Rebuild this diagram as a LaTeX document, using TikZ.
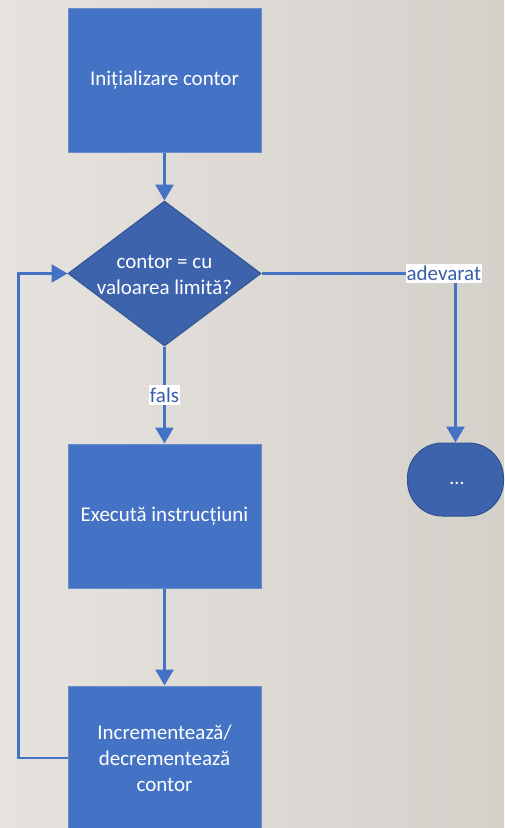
\documentclass[tikz,border=0pt]{standalone}
\usepackage{fontspec}
\setmainfont{Carlito}
\usetikzlibrary{shapes.geometric,arrows.meta}
\definecolor{boxblue}{HTML}{4472C4}
\definecolor{boxedge}{HTML}{6A8CCB}
\definecolor{darkblue}{HTML}{3D63AD}
\definecolor{darkedge}{HTML}{2F528F}
\definecolor{bgleft}{HTML}{E6E3DF}
\definecolor{bgright}{HTML}{D4D1CB}
\definecolor{labtext}{HTML}{3A5EA8}
\tikzset{
  x=1pt, y=-1pt,
  procbox/.style={draw=boxedge, line width=1pt, fill=boxblue, minimum width=193pt, minimum height=144pt, inner sep=0pt, text=white, font=\fontsize{21}{26}\selectfont, align=center},
  decbox/.style={diamond, draw=darkedge, line width=1pt, fill=darkblue, minimum width=193pt, minimum height=145pt, inner sep=0pt},
  termbox/.style={draw=darkedge, line width=1pt, fill=darkblue, rounded corners=35pt, minimum width=96pt, minimum height=73pt, inner sep=0pt},
  wtxt/.style={text=white, font=\fontsize{21}{26}\selectfont, align=center, inner sep=0pt},
  conn/.style={draw=boxblue, line width=2.5pt, -{Triangle[width=18pt,length=16pt]}},
  lab/.style={fill=white, text=labtext, font=\fontsize{21}{22}\selectfont, inner xsep=1pt, inner ysep=2.5pt},
}
\begin{document}
\begin{tikzpicture}
\shade[left color=bgleft, right color=bgright] (0,0) rectangle (504,828);
\useasboundingbox (0,0) rectangle (504,828);
\node[procbox] (init) at (164.5,80) {Inițializare contor};
\node[decbox] (dec) at (164.5,273.5) {};
\node[wtxt] (dectxt) at (164.5,275) {contor = cu\\valoarea limită?};
\node[procbox] (exec) at (164.5,516) {Execută instrucțiuni};
\node[procbox] (inc) at (164.5,758) {Incrementează/\\decrementează\\contor};
\node[termbox] (end) at (455.5,479.5) {};
\node[wtxt, font=\fontsize{20}{22}\selectfont] (endtxt) at (457,483) {...};
\draw[conn] (init.south) -- (dec.north);
\draw[conn] (dec.south) -- node[lab] (fals) {fals} (exec.north);
\draw[conn] (exec.south) -- (inc.north);
\draw[conn] (dec.east) -| node[lab, pos=0.47] (adev) {adevarat} (end.north);
\draw[conn] (inc.west) -- ++(-49,0) |- (dec.west);
\end{tikzpicture}
\end{document}
